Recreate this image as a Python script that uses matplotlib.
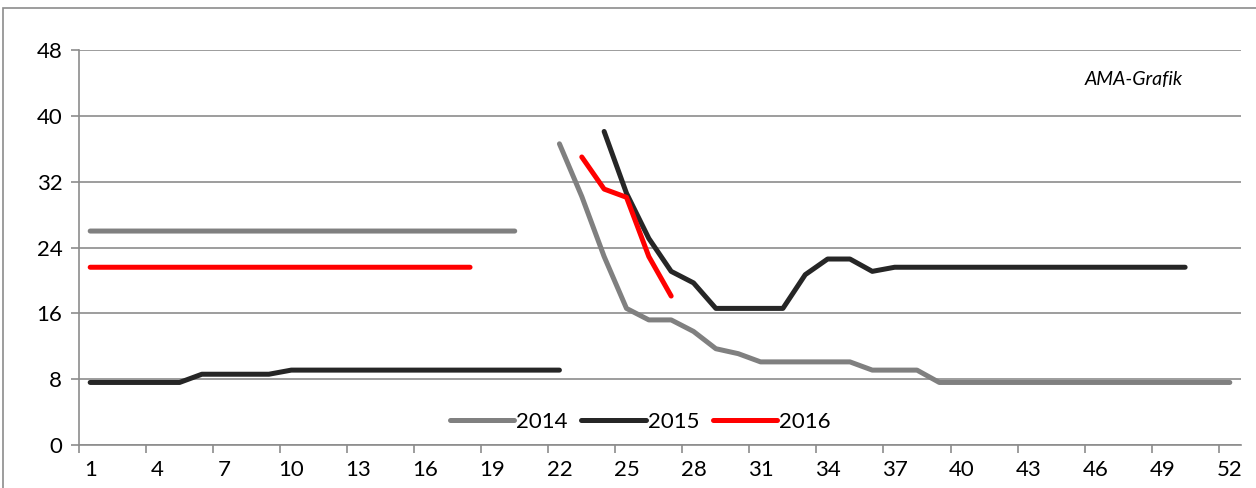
import matplotlib.pyplot as plt
import numpy as np
from matplotlib.patches import Rectangle

nan = np.nan
weeks = list(range(1, 53))

# weekly values (gaps = nan)
y2014 = [26.0, 26.0, 26.0, 26.0, 26.0, 26.0, 26.0, 26.0, 26.0, 26.0,
         26.0, 26.0, 26.0, 26.0, 26.0, 26.0, 26.0, 26.0, 26.0, 26.0,
         nan, 36.6, 30.2, 22.9, 16.6, 15.2, 15.2, 13.8, 11.7, 11.1,
         10.1, 10.1, 10.1, 10.1, 10.1, 9.1, 9.1, 9.1, 7.6, 7.6,
         7.6, 7.6, 7.6, 7.6, 7.6, 7.6, 7.6, 7.6, 7.6, 7.6,
         7.6, 7.6]
y2015 = [7.6, 7.6, 7.6, 7.6, 7.6, 8.6, 8.6, 8.6, 8.6, 9.1,
         9.1, 9.1, 9.1, 9.1, 9.1, 9.1, 9.1, 9.1, 9.1, 9.1,
         9.1, 9.1, nan, 38.1, 30.6, 25.1, 21.1, 19.7, 16.6, 16.6,
         16.6, 16.6, 20.7, 22.6, 22.6, 21.1, 21.6, 21.6, 21.6, 21.6,
         21.6, 21.6, 21.6, 21.6, 21.6, 21.6, 21.6, 21.6, 21.6, 21.6,
         nan, nan]
y2016 = [21.6, 21.6, 21.6, 21.6, 21.6, 21.6, 21.6, 21.6, 21.6, 21.6,
         21.6, 21.6, 21.6, 21.6, 21.6, 21.6, 21.6, 21.6, nan, nan,
         nan, nan, 35.0, 31.1, 30.1, 22.9, 18.1, nan, nan, nan,
         nan, nan, nan, nan, nan, nan, nan, nan, nan, nan,
         nan, nan, nan, nan, nan, nan, nan, nan, nan, nan,
         nan, nan]

series = [("2014", y2014, "#808080"), ("2015", y2015, "#262626"), ("2016", y2016, "#ff0000")]

plt.rcParams['font.family'] = ['Lato', 'DejaVu Sans']
grid_col = "#8c8c8c"

fig = plt.figure(figsize=(12.56, 4.88), dpi=100)
fig.patches.append(Rectangle((3 / 1256, -0.1), 1.2, 1 - 8 / 488 + 0.1, transform=fig.transFigure,
                             fill=False, edgecolor="#8c8c8c", linewidth=1.2))
ax = fig.add_axes([79 / 1256, 1 - 445 / 488, 1162 / 1256, 395 / 488])

for name, vals, col in series:
    ax.plot(weeks, vals, color=col, lw=3.6, solid_capstyle='round', label=name)

ax.set_xlim(0.5, 52.5)
ax.set_ylim(0, 48)
ax.set_yticks(range(0, 49, 8))
ax.yaxis.grid(True, color=grid_col, lw=1.2)
ax.set_axisbelow(True)

# labels at 1,4,..52 without marks; marks between categories
ax.set_xticks(range(1, 53, 3))
ax.set_xticks(np.arange(0.5, 52, 3), minor=True)
ax.tick_params(axis='x', which='major', length=0, pad=11, labelsize=16)
ax.tick_params(axis='x', which='minor', length=6, width=1.2, color=grid_col)
ax.tick_params(axis='y', length=6, width=1.2, color=grid_col, labelsize=16, pad=6)

for s in ['top', 'right']:
    ax.spines[s].set_visible(False)
for s in ['left', 'bottom']:
    ax.spines[s].set_color(grid_col)
    ax.spines[s].set_linewidth(1.2)

ax.text(0.95, 0.925, "AMA-Grafik", transform=ax.transAxes, ha='right', va='center',
        fontsize=14, style='italic')

ax.legend(loc='center', bbox_to_anchor=(0.483, 0.058), ncol=3, frameon=False,
          fontsize=16, handlelength=2.9, handletextpad=0.1, columnspacing=0.6)

fig.savefig("out.png", dpi=100)
